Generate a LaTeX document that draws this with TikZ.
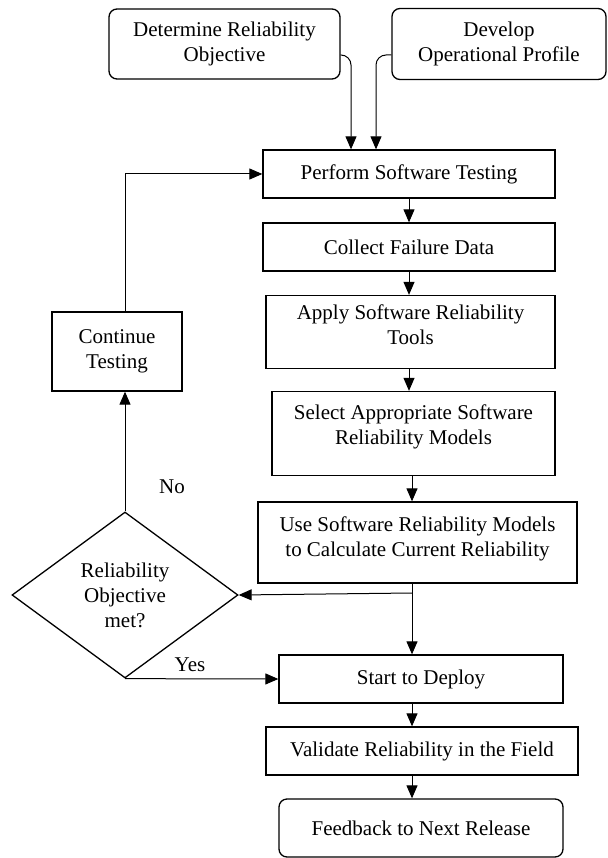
\documentclass[tikz,border=0pt]{standalone}
\usepackage{fontspec}
\setmainfont{Liberation Serif}
\usetikzlibrary{shapes.geometric,arrows.meta}

\begin{document}
\begin{tikzpicture}[
            x = 1pt, y = -1pt,
            every node/.style={font=\fontsize{21}{25}\selectfont, align=center, inner sep=0pt},
            box/.style={draw, line width=1.3pt, minimum width=#1},
            roundbox/.style={box=#1, rounded corners=8pt},
            decision/.style={draw, line width=1.3pt, diamond, minimum width=226pt, minimum height=166pt},
            line/.style={line width=1pt},
            arr/.style={line, -{Triangle[length=13pt,width=11pt]}},
            ]
        \useasboundingbox (0,0) rectangle (607,858);

        \node[roundbox=231pt, minimum height=70pt] (det) at (224.5,44) {Determine Reliability\\Objective};
        \node[roundbox=214pt, minimum height=71pt] (dev) at (499,44) {Develop\\Operational Profile};
        \node[box=292pt, minimum height=48pt] (perf) at (409,174) {Perform Software Testing};
        \node[box=292pt, minimum height=48pt] (coll) at (409,247) {Collect Failure Data};
        \node[box=289pt, minimum height=73pt, text depth=14pt] (apply) at (410.5,332) {Apply Software Reliability\\Tools};
        \node[box=283pt, minimum height=84pt, text depth=18pt] (sel) at (413.5,433.5) {Select Appropriate Software\\Reliability Models};
        \node[box=319pt, minimum height=81pt, text depth=12pt] (use) at (417.5,542.5) {Use Software Reliability Models\\to Calculate Current Reliability};
        \node[decision] (dec) at (125,595) {Reliability\\Objective\\met?};
        \node[box=130pt, minimum height=79pt] (cont) at (117,351.5) {Continue\\Testing};
        \node[box=284pt, minimum height=48pt] (start) at (421,679) {Start to Deploy};
        \node[box=312pt, minimum height=48pt] (val) at (422,751) {Validate Reliability in the Field};
        \node[roundbox=284pt, minimum height=58pt] (feed) at (421,828) {Feedback to Next Release};
        \node (no) at (172,487) {No};
        \node (yes) at (190,665) {Yes};
        \coordinate (j) at (412,593);

        \draw[arr, rounded corners=10pt] ([yshift=-11pt]det.east) -| ([xshift=-58pt]perf.north);
        \draw[arr, rounded corners=10pt] ([yshift=-11pt]dev.west) -| ([xshift=-33pt]perf.north);
        \draw[arr] (perf.south) -- (perf.south |- coll.north);
        \draw[arr] (coll.south) -- (coll.south |- apply.north);
        \draw[arr] (apply.south -| perf.south) -- (perf.south |- sel.north);
        \draw[arr] (sel.south -| j) -- (j |- use.north);
        \draw[arr] (use.south -| j) -- (j |- start.north);
        \draw[arr] (j) -- (dec.east);
        \draw[arr] (dec.south) -- (start.west);
        \draw[arr] (dec.north) -- (dec.north |- cont.south);
        \draw[arr] (cont.north -| dec.north) |- (perf.west);
        \draw[arr] (start.south -| j) -- (j |- val.north);
        \draw[arr] (val.south -| j) -- (j |- feed.north);
    \end{tikzpicture}
\end{document}
